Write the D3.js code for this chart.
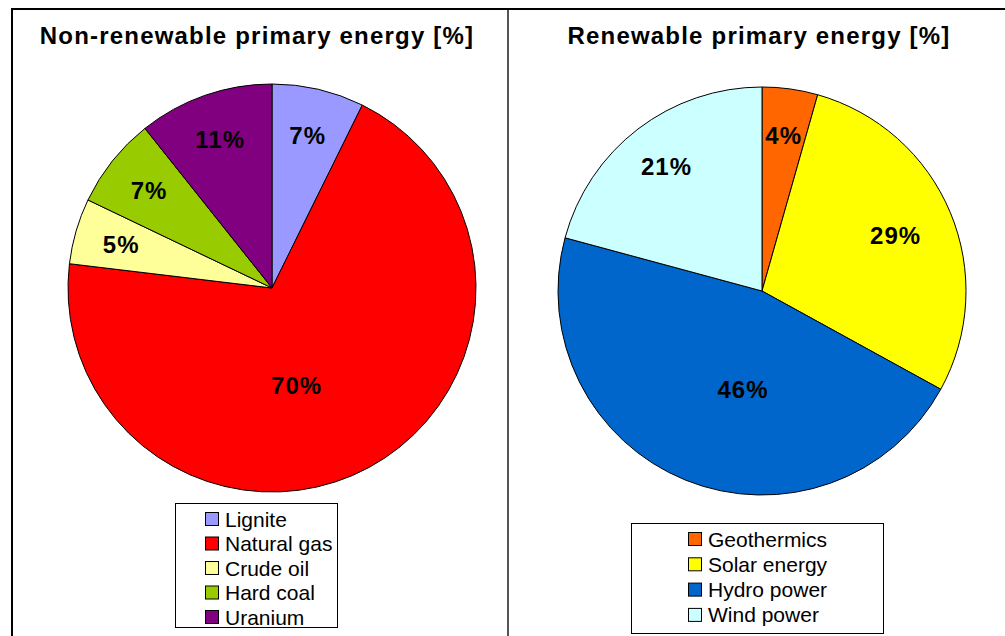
<!DOCTYPE html>
<html>
<head>
<meta charset="utf-8">
<script src="https://cdn.jsdelivr.net/npm/d3@7"></script>
<style>
  body { margin: 0; background: #fff; }
  svg { display: block; font-family: Arial, "Liberation Sans", sans-serif; }
</style>
</head>
<body>
<script>
// chart data
var nonRenewCategories = ["Lignite", "Natural gas", "Crude oil", "Hard coal", "Uranium"];
var nonRenewValues = [7.3, 69.6, 5.2, 7.2, 10.7];
var nonRenewColors = ["#9999ff", "#ff0000", "#ffff99", "#99cc00", "#800080"];

var renewCategories = ["Geothermics", "Solar energy", "Hydro power", "Wind power"];
var renewValues = [4.4, 28.6, 46.2, 20.8];
var renewColors = ["#ff6600", "#ffff00", "#0066cc", "#ccffff"];

var canvasWidth = 1005;
var canvasHeight = 636;

var svg = d3.select("body").append("svg")
    .attr("width", canvasWidth)
    .attr("height", canvasHeight);

// frame lines
svg.append("line")
    .attr("x1", 11).attr("x2", canvasWidth)
    .attr("y1", 9).attr("y2", 9)
    .attr("stroke", "#000").attr("stroke-width", 2);
svg.append("line")
    .attr("x1", 12).attr("x2", 12)
    .attr("y1", 8).attr("y2", canvasHeight)
    .attr("stroke", "#000").attr("stroke-width", 2);
svg.append("line")
    .attr("x1", 508).attr("x2", 508)
    .attr("y1", 10).attr("y2", canvasHeight)
    .attr("stroke", "#555").attr("stroke-width", 2);

var panels = [
  { title: "Non-renewable primary energy [%]", titleX: 257,
    cats: nonRenewCategories, values: nonRenewValues, colors: nonRenewColors,
    cx: 272, cy: 288, r: 204,
    legend: { x: 175, y: 503, w: 162, h: 124, pad: 30, rowH: 24.5 } },
  { title: "Renewable primary energy [%]", titleX: 759,
    cats: renewCategories, values: renewValues, colors: renewColors,
    cx: 762, cy: 291, r: 204,
    legend: { x: 631, y: 523, w: 252, h: 110, pad: 57, rowH: 25.3 } }
];

panels.forEach(drawPanel);

function drawPanel(p) {
  var total = d3.sum(p.values);
  var color = d3.scaleOrdinal().domain(p.cats).range(p.colors);

  svg.append("text")
      .attr("x", p.titleX)
      .attr("y", 44)
      .attr("text-anchor", "middle")
      .style("font-size", "24px")
      .style("font-weight", "bold")
      .style("letter-spacing", "1.2px")
      .text(p.title);

  var pie = d3.pie().sort(null).value(function(d) { return d.value; });
  var arcs = pie(p.cats.map(function(c, i) { return { cat: c, value: p.values[i] }; }));

  var arc = d3.arc().innerRadius(0).outerRadius(p.r);

  var g = svg.append("g")
      .attr("transform", "translate(" + p.cx + "," + p.cy + ")");

  g.selectAll("path")
      .data(arcs)
      .enter().append("path")
      .attr("d", arc)
      .attr("fill", function(d) { return color(d.data.cat); })
      .attr("stroke", "#000")
      .attr("stroke-width", 1);

  // labels: small slices near the rim, large slices pulled to the middle (like excel best fit)
  g.selectAll(".lbl")
      .data(arcs)
      .enter().append("text")
      .attr("class", "lbl")
      .attr("transform", function(d) {
        var share = d.data.value / total;
        var a = (d.startAngle + d.endAngle) / 2;
        var lr = p.r * 0.77;
        if (share > 0.4) {
          a = (a + Math.PI) / 2;
          lr = p.r * 0.49;
        } else if (share > 0.25) {
          lr = p.r * 0.71;
        }
        return "translate(" + (lr * Math.sin(a)) + "," + (-lr * Math.cos(a)) + ")";
      })
      .attr("text-anchor", "middle")
      .attr("dy", "0.36em")
      .style("font-size", "24px")
      .style("font-weight", "bold")
      .style("letter-spacing", "1px")
      .text(function(d) { return Math.round(d.data.value / total * 100) + "%"; });

  // legend
  var lg = svg.append("g")
      .attr("transform", "translate(" + p.legend.x + "," + p.legend.y + ")");
  lg.append("rect")
      .attr("x", 0.5).attr("y", 0.5)
      .attr("width", p.legend.w).attr("height", p.legend.h)
      .attr("fill", "#fff")
      .attr("stroke", "#000");

  var items = lg.selectAll(".item")
      .data(p.cats)
      .enter().append("g")
      .attr("class", "item")
      .attr("transform", function(d, i) {
        return "translate(" + p.legend.pad + "," + (16 + i * p.legend.rowH) + ")";
      });
  items.append("rect")
      .attr("x", 0.5).attr("y", -6.5)
      .attr("width", 13).attr("height", 13)
      .attr("fill", function(d) { return color(d); })
      .attr("stroke", "#000");
  items.append("text")
      .attr("x", 20)
      .attr("dy", "0.36em")
      .style("font-size", "21px")
      .attr("fill", "#000")
      .text(function(d) { return d; });
}
</script>
</body>
</html>
